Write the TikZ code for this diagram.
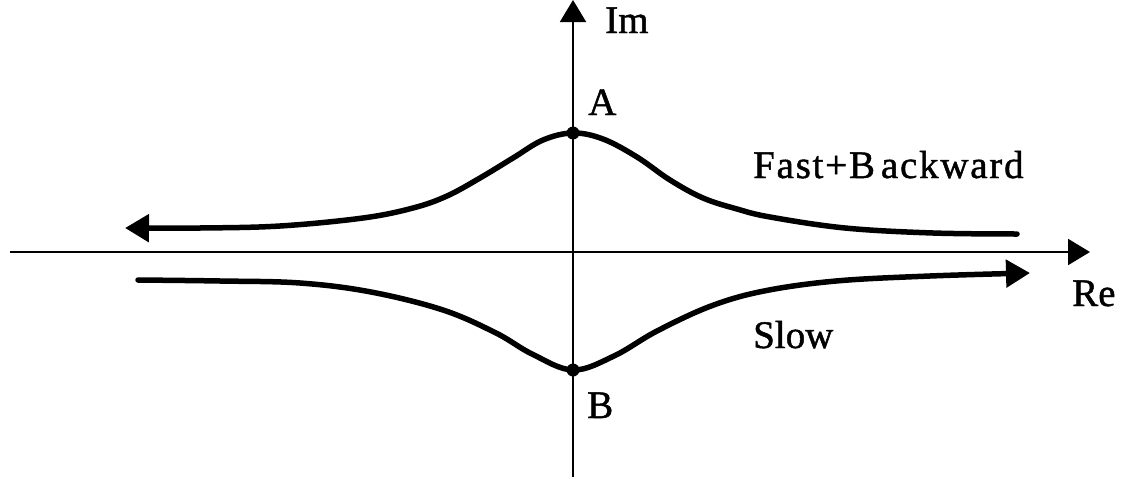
\documentclass[tikz,border=0pt]{standalone}
\usepackage{fontspec}
\setmainfont[FakeBold=1.2]{Liberation Serif}
\newfontfamily\spacedfont[LetterSpace=4.5,FakeBold=1.2]{Liberation Serif}
\usetikzlibrary{arrows.meta}
\tikzset{
  axisline/.style={line width=2.2pt, -{Triangle[length=22pt,width=26pt]}},
  curveline/.style={line width=5.5pt, line cap=round, line join=round},
  curvetip/.style={-{Triangle[length=24pt,width=27pt]}},
  lbl/.style={anchor=base west, inner sep=0pt, font=\fontsize{39}{44}\selectfont},
  pointdot/.style={circle, fill=black, inner sep=0pt, minimum size=13pt},
}
\begin{document}
\begin{tikzpicture}[x=1pt,y=-1pt]
\useasboundingbox (0,0) rectangle (1124,479);
% axes
\coordinate (xs) at (10,252);
\coordinate (xe) at (1090,252);
\coordinate (ys) at (573,477);
\coordinate (ye) at (573,0);
\draw[axisline] (xs) -- (xe);
\draw[axisline, line width=2pt] (ys) -- (ye);
% upper curve (Fast+Backward), arrow to the left
\draw[curveline, curvetip] plot[smooth, tension=0.6] coordinates {
  (1017,234) (933,233) (845,228) (770,217) (737,209) (703,198) (670,180)
  (637,157) (603,139) (573,133) (543,140) (513,158) (480,178) (447,196)
  (413,208) (363,218) (280,226) (200,228) (125,228)};
% lower curve (Slow), arrow to the right
\draw[curveline, curvetip] plot[smooth, tension=0.6] coordinates {
  (138,280) (220,281) (300,283) (371,292) (443,310) (496,333) (532,354)
  (573,370) (614,356) (657,331) (711,306) (764,291) (836,281) (930,276) (1030,273)};
% points
\node[pointdot] (A) at (573,133) {};
\node[pointdot] (B) at (573,370) {};
% labels
\node[lbl] (lA) at (588,115) {A};
\node[lbl] (lB) at (587,418) {B};
\node[lbl] (lIm) at (605,33) {Im};
\node[lbl] (lRe) at (1072,306) {Re};
\node[lbl] (lFB) at (753,178) {\spacedfont Fast+B\hspace{6pt}ackward};
\node[lbl] (lS) at (753,348) {Slow};
\end{tikzpicture}
\end{document}
